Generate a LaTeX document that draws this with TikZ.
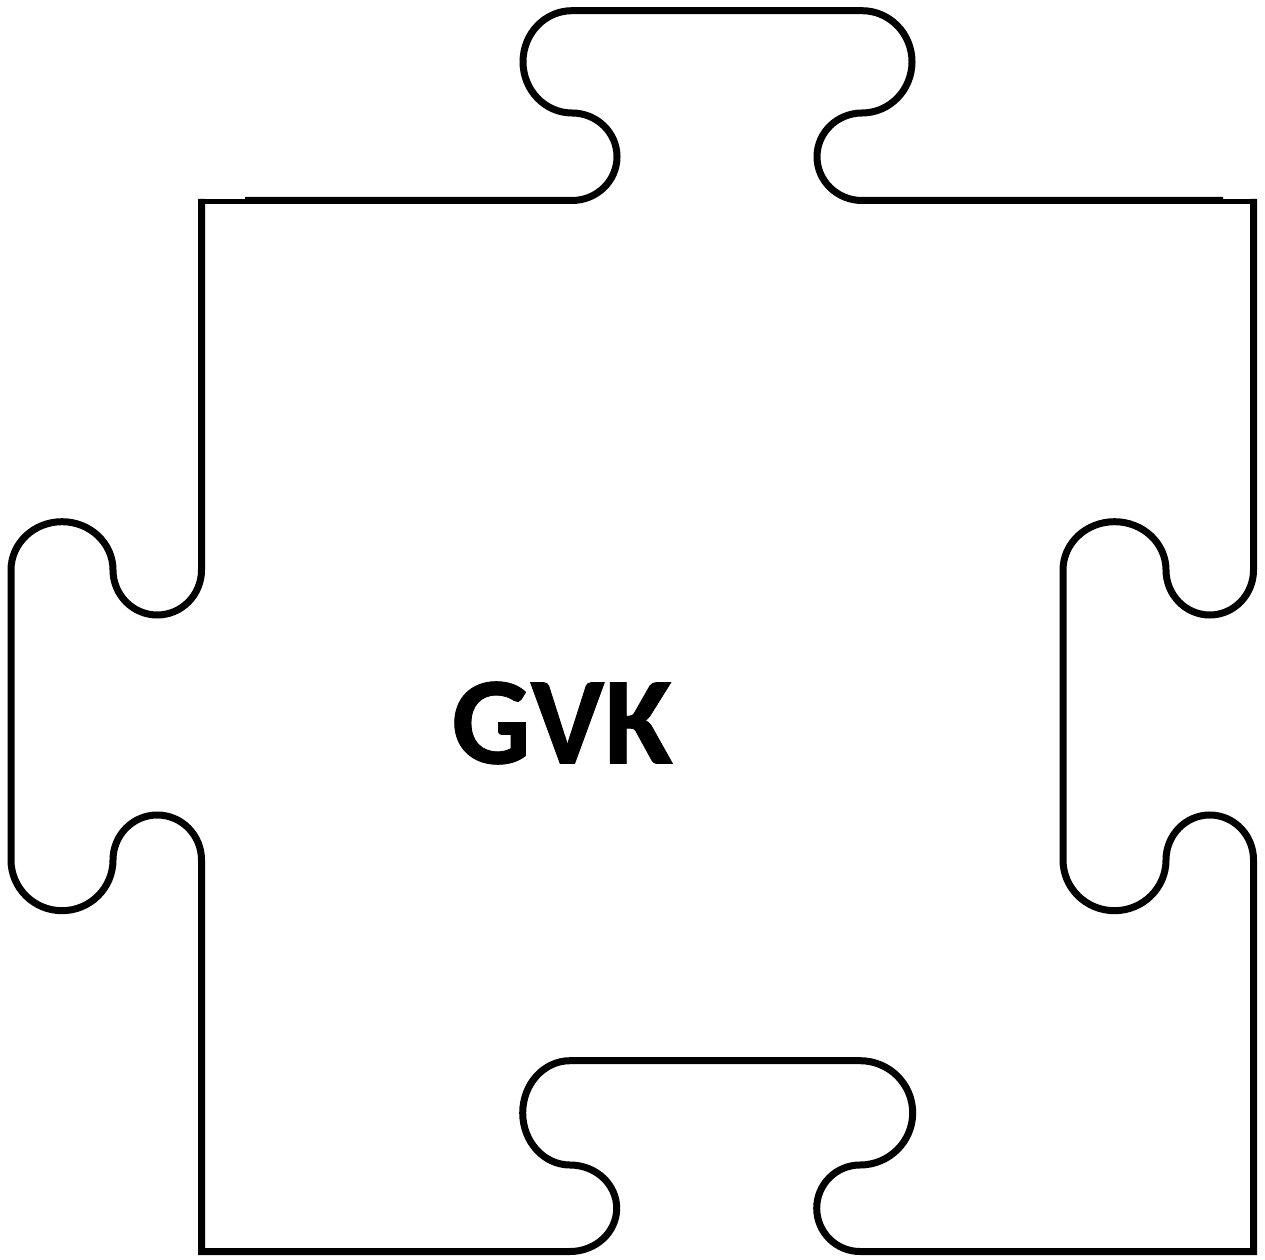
\documentclass[tikz,border=0pt]{standalone}
\usepackage{fontspec}
\setmainfont{Carlito}
\newfontfamily\labelfont[BoldFont={Carlito Bold},BoldFeatures={FakeBold=0.6}]{Carlito}
\tikzset{outline/.style={draw=black,line width=7pt,line join=miter},
thinedge/.style={draw=black,line width=5pt},
label/.style={font=\labelfont\fontsize{125}{125}\selectfont\bfseries,text=black,inner sep=0pt}}
\begin{document}
\begin{tikzpicture}[x=1pt,y=1pt]
\useasboundingbox (0,0) rectangle (1265,1259);
% pixel y converted as 1259-y
% thin stretches of the top edge next to the corners
\draw[thinedge] (197.5,1057.5) -- (245,1057.5);
\draw[thinedge] (1223,1057.5) -- (1257,1057.5);
% top edge with its tab
\draw[outline] (245,1058.5) -- (572,1058.5)
 arc[start angle=-90,end angle=90,x radius=45,y radius=43.75]
 arc[start angle=270,end angle=90,x radius=49,y radius=51.15]
 -- (862,1248.3)
 arc[start angle=90,end angle=-90,x radius=50,y radius=51.15]
 arc[start angle=90,end angle=270,x radius=45,y radius=43.75]
 -- (1223,1058.5);
% remaining three sides
\draw[outline] (1253.5,1060) -- (1253.5,689)
 arc[start angle=0,end angle=-180,x radius=43.75,y radius=45]
 arc[start angle=0,end angle=180,x radius=51.5,y radius=48.3]
 -- (1063,399)
 arc[start angle=180,end angle=360,x radius=51.5,y radius=50.7]
 arc[start angle=180,end angle=0,x radius=43.75,y radius=45]
 -- (1253.5,7.5) -- (860,7.5)
 arc[start angle=270,end angle=90,x radius=43.3,y radius=43.25]
 arc[start angle=-90,end angle=90,x radius=52.7,y radius=52.15]
 -- (570,198.3)
 arc[start angle=90,end angle=270,x radius=47.3,y radius=52.15]
 arc[start angle=90,end angle=-90,x radius=46.7,y radius=43.25]
 -- (201.5,7.5) -- (201.5,399)
 arc[start angle=0,end angle=180,x radius=44.25,y radius=45]
 arc[start angle=360,end angle=180,x radius=51,y radius=50.7]
 -- (11,689)
 arc[start angle=180,end angle=0,x radius=51,y radius=48.3]
 arc[start angle=180,end angle=360,x radius=44.25,y radius=45]
 -- (201.5,1060);
\node[label] (gvk) at (562,536) {GVK};
\end{tikzpicture}
\end{document}
